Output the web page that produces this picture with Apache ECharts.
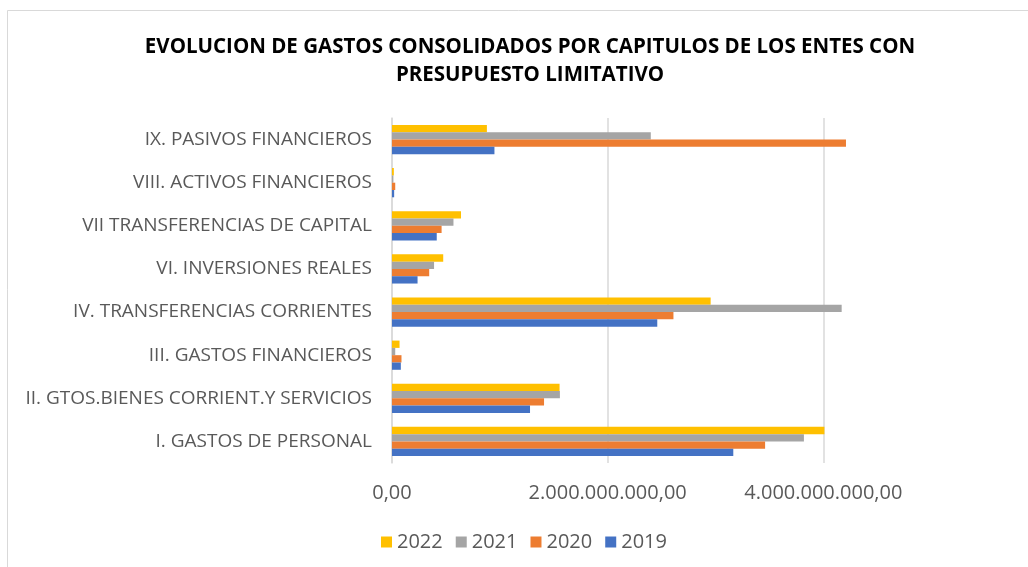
<!DOCTYPE html>
<html>
<head>
<meta charset="utf-8">
<script src="https://cdn.jsdelivr.net/npm/echarts@6/dist/echarts.min.js"></script>
<style>
  html, body { margin: 0; padding: 0; background: #fff; }
  #chart { width: 1028px; height: 567px; }
</style>
</head>
<body>
<div id="chart"></div>
<script>
// categories, bottom to top as in the picture
let categorias = [
  'I. GASTOS DE PERSONAL',
  'II. GTOS.BIENES CORRIENT.Y SERVICIOS',
  'III. GASTOS FINANCIEROS',
  'IV. TRANSFERENCIAS CORRIENTES',
  'VI. INVERSIONES REALES',
  'VII TRANSFERENCIAS DE CAPITAL',
  'VIII. ACTIVOS FINANCIEROS',
  'IX. PASIVOS FINANCIEROS'
];

// values in euros
let gastos2022 = [4.01e9, 1.554e9, 0.07e9, 2.955e9, 0.475e9, 0.64e9, 0.017e9, 0.88e9];
let gastos2021 = [3.82e9, 1.557e9, 0.03e9, 4.17e9, 0.39e9, 0.57e9, 0.013e9, 2.40e9];
let gastos2020 = [3.46e9, 1.41e9, 0.088e9, 2.61e9, 0.345e9, 0.46e9, 0.03e9, 4.21e9];
let gastos2019 = [3.165e9, 1.28e9, 0.082e9, 2.46e9, 0.237e9, 0.415e9, 0.02e9, 0.95e9];

let anios = ['2022', '2021', '2020', '2019'];
let colores = ['#FFC000', '#A5A5A5', '#ED7D31', '#4472C4'];
let valores = [gastos2022, gastos2021, gastos2020, gastos2019];

let fuente = '"Open Sans", "Noto Sans", sans-serif';

// 2000000000 -> 2.000.000.000,00
function formato(v) {
  let ent = Math.round(v).toString().replace(/\B(?=(\d{3})+(?!\d))/g, '.');
  return ent + ',00';
}

let chart = echarts.init(document.getElementById('chart'), null, { renderer: 'canvas' });

let option = {
  animation: false,
  backgroundColor: '#fff',
  textStyle: { fontFamily: fuente },
  graphic: [{
    type: 'rect',
    shape: { x: 7.5, y: 10.5, width: 1030, height: 570 },
    style: { fill: 'none', stroke: '#d9d9d9', lineWidth: 1 },
    silent: true
  }],
  title: {
    text: 'EVOLUCION DE GASTOS CONSOLIDADOS POR CAPITULOS DE LOS ENTES CON\nPRESUPUESTO LIMITATIVO',
    left: 525,
    textAlign: 'center',
    top: 28,
    textStyle: {
      fontFamily: fuente,
      fontSize: 20.5,
      fontWeight: 'bold',
      color: '#000',
      lineHeight: 28
    }
  },
  legend: {
    data: anios,
    left: 376,
    top: 527,
    itemWidth: 11,
    itemHeight: 11,
    itemGap: 13,
    icon: 'rect',
    textStyle: { fontFamily: fuente, fontSize: 20, color: '#595959' }
  },
  grid: {
    left: 392,
    top: 118,
    width: 647,
    height: 345,
    outerBoundsMode: 'none'
  },
  xAxis: {
    type: 'value',
    min: 0,
    max: 6e9,
    interval: 2e9,
    axisLine: { show: false },
    axisTick: { show: false },
    splitLine: { lineStyle: { color: '#d9d9d9', width: 1.5 } },
    axisLabel: {
      showMaxLabel: false,
      margin: 20,
      fontFamily: fuente,
      fontSize: 20,
      color: '#595959',
      formatter: formato
    }
  },
  yAxis: {
    type: 'category',
    data: categorias,
    axisLine: { lineStyle: { color: '#d9d9d9', width: 1.5 } },
    axisTick: { show: false },
    axisLabel: {
      margin: 20,
      fontFamily: fuente,
      fontSize: 19,
      color: '#595959'
    }
  },
  series: anios.map((a, i) => ({
    name: a,
    type: 'bar',
    data: valores[i],
    barWidth: 7.3,
    barGap: '0%',
    itemStyle: { color: colores[i] }
  }))
};

chart.setOption(option);
</script>
</body>
</html>
